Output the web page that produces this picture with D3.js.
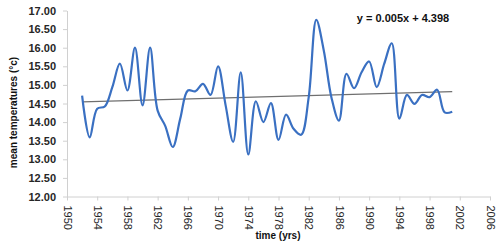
<!DOCTYPE html>
<html>
<head>
<meta charset="utf-8">
<script src="https://cdnjs.cloudflare.com/ajax/libs/d3/7.8.5/d3.min.js"></script>
<style>
  body { margin: 0; background: #fff; }
  svg { display: block; font-family: 'Liberation Sans', Arial, sans-serif; }
</style>
</head>
<body>
<svg id="chart"></svg>
<script>
const width = 499
const height = 243
const margin = { top: 10.5, right: 9, bottom: 46.5, left: 67 }

// yearly mean temperatures
const years = d3.range(1952, 2002)
const temps = [
  14.71, 13.59, 14.36, 14.42, 14.94, 15.57, 14.85, 16.0, 14.45, 16.0,
  14.31, 13.9, 13.33, 14.1, 14.85, 14.83, 15.03, 14.73, 15.5, 14.45,
  13.47, 15.34, 13.13, 14.56, 14.0, 14.51, 13.52, 14.2, 13.82, 13.66,
  14.67, 16.75, 15.92, 14.67, 14.04, 15.3, 14.91, 15.34, 15.63, 14.94,
  15.57, 16.12, 14.09, 14.73, 14.49, 14.73, 14.67, 14.87, 14.26, 14.28
]
const xTicks = d3.range(1950, 2007, 4)
const yTicks = d3.range(12, 17.01, 0.5)
const trendLabel = 'y = 0.005x + 4.398'

const data = years.map((yr, i) => ({ year: yr, temp: temps[i] }))

const svg = d3.select('#chart')
  .attr('width', width)
  .attr('height', height)

const x = d3.scaleLinear()
  .domain([1950, 2006])
  .range([margin.left, width - margin.right])

const y = d3.scaleLinear()
  .domain([12, 17])
  .range([height - margin.bottom, margin.top])

// axes
const xAxis = svg.append('g')
  .attr('transform', `translate(0, ${height - margin.bottom})`)
  .call(d3.axisBottom(x).tickValues(xTicks).tickFormat(d3.format('d')).tickSize(4).tickSizeOuter(0))
xAxis.select('.domain').attr('stroke', '#d0d0d0')
xAxis.selectAll('.tick line').attr('stroke', '#d0d0d0')
xAxis.selectAll('.tick text')
  .attr('transform', 'rotate(90)')
  .attr('text-anchor', 'start')
  .attr('x', 9)
  .attr('y', 0)
  .attr('dy', '0.35em')
  .attr('fill', '#262626')
  .style('font-size', '11px')

const yAxis = svg.append('g')
  .attr('transform', `translate(${margin.left}, 0)`)
  .call(d3.axisLeft(y).tickValues(yTicks).tickFormat(d3.format('.2f')).tickSize(4).tickSizeOuter(0))
yAxis.select('.domain').attr('stroke', '#d0d0d0')
yAxis.selectAll('.tick line').attr('stroke', '#d0d0d0')
yAxis.selectAll('.tick text')
  .attr('x', -11)
  .attr('fill', '#262626')
  .style('font-size', '11px')
  .style('font-weight', 'bold')

// linear trend (least squares)
const mx = d3.mean(data, d => d.year)
const my = d3.mean(data, d => d.temp)
const slope = d3.sum(data, d => (d.year - mx) * (d.temp - my)) / d3.sum(data, d => (d.year - mx) ** 2)
const icpt = my - slope * mx
const first = years[0]
const last = years[years.length - 1]

svg.append('line')
  .attr('x1', x(first))
  .attr('y1', y(icpt + slope * first))
  .attr('x2', x(last))
  .attr('y2', y(icpt + slope * last))
  .attr('stroke', '#6f6f6f')
  .attr('stroke-width', 1.2)

// smoothed series
const line = d3.line()
  .x(d => x(d.year))
  .y(d => y(d.temp))
  .curve(d3.curveCatmullRom.alpha(0.5))

svg.append('path')
  .datum(data)
  .attr('d', line)
  .attr('fill', 'none')
  .attr('stroke', '#3a70c2')
  .attr('stroke-width', 2.2)
  .attr('stroke-linejoin', 'round')

// trend equation
svg.append('text')
  .attr('x', 403)
  .attr('y', 22)
  .attr('text-anchor', 'middle')
  .attr('fill', '#111')
  .style('font-size', '11px')
  .style('font-weight', 'bold')
  .text(trendLabel)

// axis titles
svg.append('text')
  .attr('transform', `translate(13, ${(margin.top + height - margin.bottom) / 2 + 9}) rotate(-90)`)
  .attr('text-anchor', 'middle')
  .attr('dy', '0.35em')
  .attr('fill', '#111')
  .style('font-size', '10px')
  .style('font-weight', 'bold')
  .text('mean temperatures (°c)')

svg.append('text')
  .attr('x', 278)
  .attr('y', 239)
  .attr('text-anchor', 'middle')
  .attr('fill', '#111')
  .style('font-size', '10px')
  .style('font-weight', 'bold')
  .text('time (yrs)')
</script>
</body>
</html>
